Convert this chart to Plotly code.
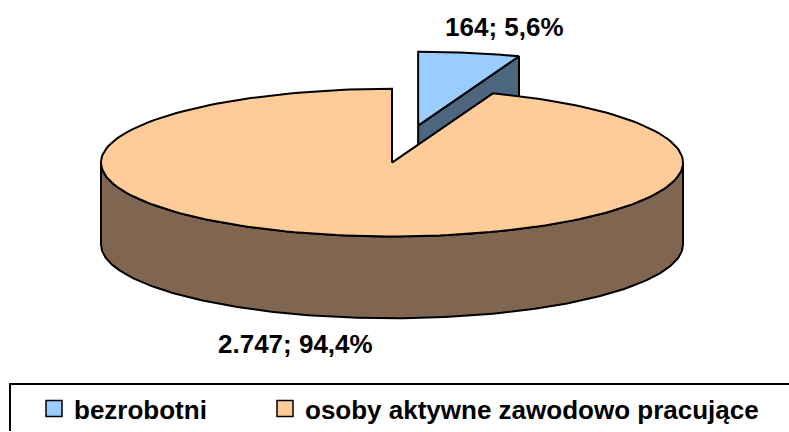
import numpy as np
import plotly.graph_objects as go

# ---- data ----
categories = ["bezrobotni", "osoby aktywne zawodowo pracujące"]
values = [164, 2747]
top_colors = ["#99CCFF", "#FFCC99"]
side_colors = ["#4D6680", "#806650"]
explode = [0.51, 0.0]

# ---- 3D pie geometry (pixel space) ----
CX, CY = 392, 163      # centre of top ellipse
RX, RY = 291, 74       # ellipse radii
DEPTH = 82             # thickness of the pie
FONT = "Liberation Sans, Arial, sans-serif"

total = sum(values)
fracs = [v / total for v in values]
starts = np.cumsum([0] + fracs[:-1]) * 360.0
ends = np.cumsum(fracs) * 360.0


def pt(theta_deg, r=1.0, dx=0.0, dy=0.0, down=0.0):
    t = np.radians(theta_deg)
    return CX + dx + r * RX * np.sin(t), CY + dy - r * RY * np.cos(t) + down


def arc(a0, a1, dx=0.0, dy=0.0, down=0.0, n=200):
    th = np.linspace(a0, a1, n)
    x, y = pt(th, 1.0, dx, dy, down)
    return list(x), list(y)


fig = go.Figure()
line = dict(color="black", width=2)

for i, (a0, a1) in enumerate(zip(starts, ends)):
    mid = np.radians((a0 + a1) / 2)
    dx = explode[i] * RX * np.sin(mid)
    dy = -explode[i] * RY * np.cos(mid)
    tipx, tipy = CX + dx, CY + dy

    # visible cut face at the end angle (if it faces the viewer)
    t1 = np.radians(a1)
    if -np.sin(t1) < 0 and a1 < 360:
        rx_, ry_ = pt(a1, 1.0, dx, dy)
        xs = [tipx, rx_, rx_, tipx, tipx]
        ys = [tipy, ry_, ry_ + DEPTH, tipy + DEPTH, tipy]
        fig.add_trace(go.Scatter(x=xs, y=ys, fill="toself", fillcolor=side_colors[i],
                                 line=line, mode="lines", showlegend=False, hoverinfo="skip"))

    # outer wall: front half (90..270) intersected with the slice
    w0, w1 = max(a0, 90), min(a1, 270)
    if w1 > w0:
        tx, ty = arc(w0, w1, dx, dy)
        bx, by = arc(w1, w0, dx, dy, DEPTH)
        fig.add_trace(go.Scatter(x=tx + bx + [tx[0]], y=ty + by + [ty[0]], fill="toself",
                                 fillcolor=side_colors[i], line=line, mode="lines",
                                 showlegend=False, hoverinfo="skip"))

    # top face
    ax, ay = arc(a0, a1, dx, dy)
    fig.add_trace(go.Scatter(x=[tipx] + ax + [tipx], y=[tipy] + ay + [tipy], fill="toself",
                             fillcolor=top_colors[i], line=line, mode="lines",
                             showlegend=False, hoverinfo="skip"))

# ---- data labels ----
def fmt_val(v):
    return f"{v:,}".replace(",", ".")


def fmt_pct(f):
    return f"{f * 100:.1f}".replace(".", ",") + "%"


label_pos = [(504, 27), (295, 345)]
for i in range(len(values)):
    fig.add_annotation(x=label_pos[i][0], y=label_pos[i][1],
                       text=f"<b>{fmt_val(values[i])}; {fmt_pct(fracs[i])}</b>",
                       showarrow=False, xanchor="center", yanchor="middle",
                       font=dict(family=FONT, size=26, color="black"))

# ---- legend entries (one legend per entry to place them like the original) ----
legend_names = ["legend", "legend2"]
for i, c in enumerate(categories):
    fig.add_trace(go.Scatter(x=[None], y=[None], mode="markers", name=f"<b>{c}</b>",
                             legend=legend_names[i],
                             marker=dict(symbol="square", size=18, color=top_colors[i],
                                         line=dict(color="black", width=1.5))))

# legend frame
fig.add_shape(type="rect", x0=10, x1=800, y0=385, y1=445, xref="x", yref="y",
              line=dict(color="black", width=2), fillcolor="rgba(0,0,0,0)", layer="below")

leg_common = dict(orientation="h", xanchor="left", y=1 - 409 / 432, yanchor="middle",
                  font=dict(family=FONT, size=26, color="black"),
                  bgcolor="rgba(0,0,0,0)", borderwidth=0, itemwidth=30)

fig.update_layout(
    width=789, height=432,
    margin=dict(l=0, r=0, t=0, b=0),
    paper_bgcolor="white", plot_bgcolor="white",
    xaxis=dict(range=[0, 789], visible=False, fixedrange=True),
    yaxis=dict(range=[432, 0], visible=False, fixedrange=True),
    showlegend=True,
    legend=dict(x=34 / 789, **leg_common),
    legend2=dict(x=265 / 789, **leg_common),
)

fig.write_html("out.html", config={"displayModeBar": False},
               post_script="document.body.style.margin='0';")
